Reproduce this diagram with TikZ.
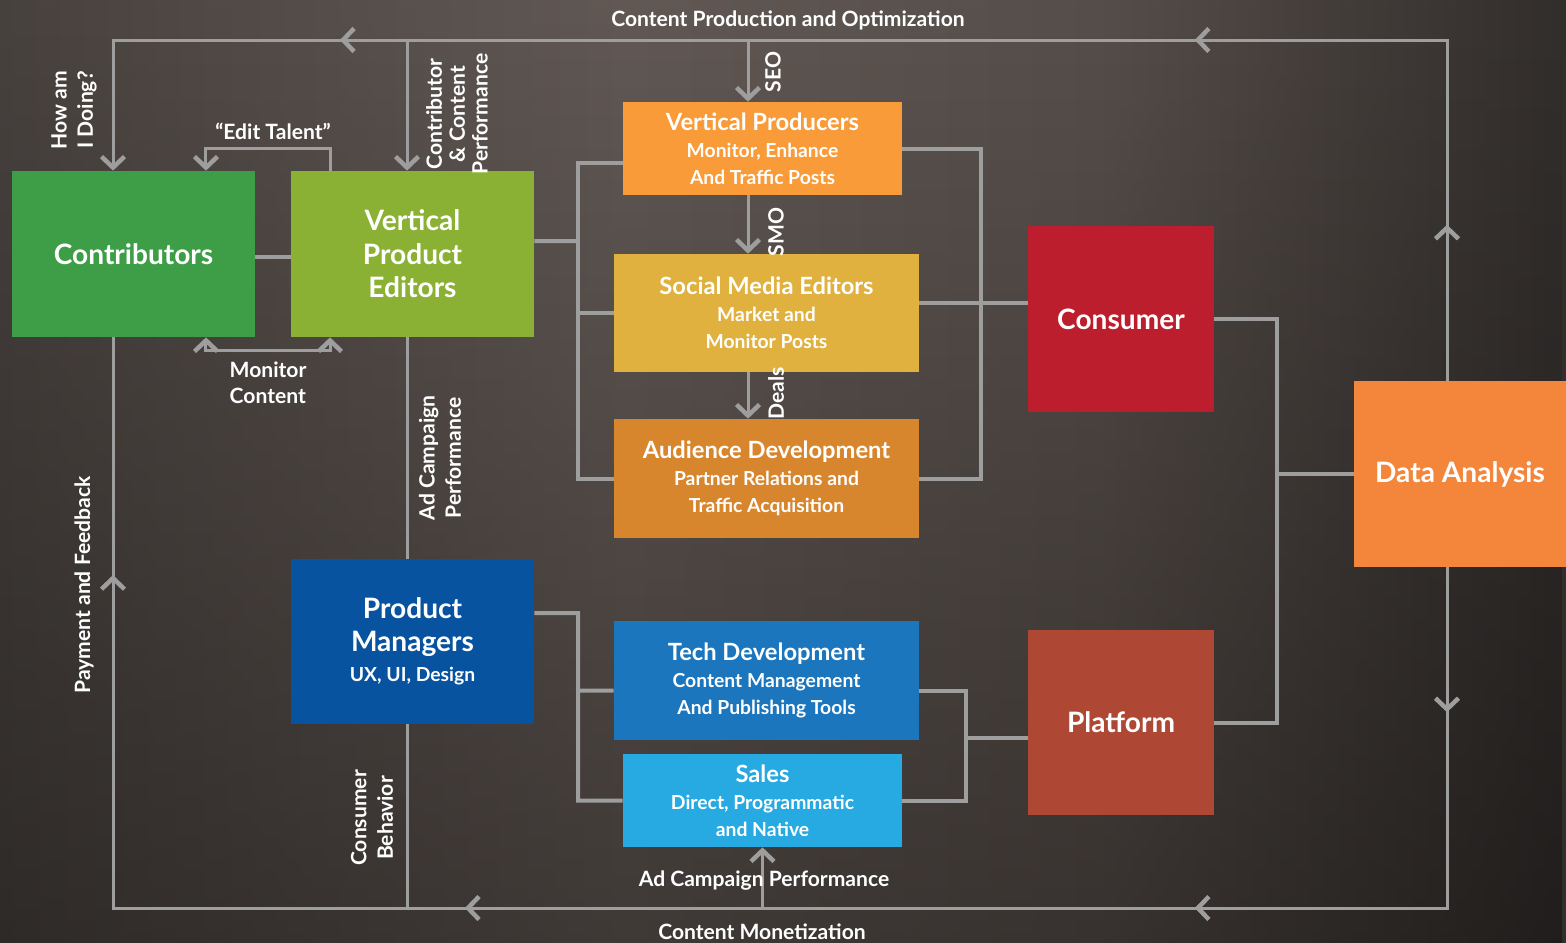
\documentclass[tikz,border=0pt]{standalone}
\usepackage{fontspec}
\setmainfont{Lato}
\usetikzlibrary{arrows.meta,decorations.markings,fadings}

\definecolor{contribgreen}{HTML}{3E9E48}
\definecolor{editorgreen}{HTML}{8AB133}
\definecolor{producerorange}{HTML}{F89B38}
\definecolor{socialyellow}{HTML}{E0B13F}
\definecolor{audienceorange}{HTML}{D8862E}
\definecolor{consumerred}{HTML}{BC1E2D}
\definecolor{dataorange}{HTML}{F3863A}
\definecolor{managerblue}{HTML}{0753A0}
\definecolor{techblue}{HTML}{1B76BD}
\definecolor{salesblue}{HTML}{27A9E1}
\definecolor{platformrust}{HTML}{AE4834}
\definecolor{wiregray}{HTML}{9E9E9E}
\definecolor{bgedge}{HTML}{151515}
\definecolor{bgdark}{HTML}{2A2725}
\definecolor{bgmid}{HTML}{48423F}
\definecolor{bglight}{HTML}{625955}
\definecolor{bgmidr}{HTML}{564E4A}
\definecolor{bgdarkr}{HTML}{322E2C}
\definecolor{bgedger}{HTML}{0D0D0D}

\pgfdeclarehorizontalshading{board}{100bp}{color(0bp)=(bgedge); color(8bp)=(bgdark);
  color(25bp)=(bgmid); color(45bp)=(bglight); color(60bp)=(bgmidr);
  color(75bp)=(bgdarkr); color(86bp)=(bgedger); color(100bp)=(bgedger)}
\tikzfading[name=fade top, top color=transparent!100, bottom color=transparent!35]

\newcommand\boxfont{\fontsize{16}{19}\selectfont}
\newcommand\teamfont{\fontsize{13.5}{15.5}\selectfont}
\newcommand\notefont{\fontsize{11}{15}\selectfont}
\newcommand\labfont{\fontsize{12}{15}\selectfont}

\tikzset{chev/.tip={Straight Barb[length=0.22cm, width=0.46cm, line width=0.09cm]}}

\begin{document}
\begin{tikzpicture}[x=0.02cm, y=-0.02cm,
  box/.style={inner sep=0pt, align=center, text=white, font=\bfseries\boxfont},
  team/.style={inner sep=0pt, align=center, text=white, font=\bfseries\teamfont},
  lab/.style={inner sep=0pt, align=center, text=white, font=\bfseries\labfont},
  wire/.style={draw=wiregray, line width=0.08cm},
  ring/.style={draw=wiregray, line width=0.06cm}]

\useasboundingbox (0,0) rectangle (1566,943);
\shade[shading=board] (0,0) rectangle (1566,943);
\fill[black, opacity=0.55, path fading=fade top] (0,0) rectangle (1566,943);

\node[box, fill=contribgreen, minimum width=4.86cm, minimum height=3.32cm] (contrib) at (133.5,254) {Contributors};
\node[box, fill=editorgreen, minimum width=4.86cm, minimum height=3.32cm] (vpe) at (412.5,254) {Vertical\\Product\\Editors};
\node[team, fill=producerorange, minimum width=5.58cm, minimum height=1.86cm] (vprod) at (762.5,148.5) {Vertical Producers\\{\notefont Monitor, Enhance}\\{\notefont And Traffic Posts}};
\node[team, fill=socialyellow, minimum width=6.10cm, minimum height=2.36cm] (sme) at (766.5,313) {Social Media Editors\\{\notefont Market and}\\{\notefont Monitor Posts}};
\node[team, fill=audienceorange, minimum width=6.10cm, minimum height=2.38cm] (aud) at (766.5,478.5) {Audience Development\\{\notefont Partner Relations and}\\{\notefont Traffic Acquisition}};
\node[box, fill=consumerred, minimum width=3.72cm, minimum height=3.72cm] (consumer) at (1121,319) {Consumer};
\node[box, fill=dataorange, minimum width=4.24cm, minimum height=3.72cm] (data) at (1460,474) {Data Analysis};
\node[box, fill=managerblue, minimum width=4.86cm, minimum height=3.30cm] (pm) at (412.5,641.5) {Product\\Managers\\[-2pt]{\notefont UX, UI, Design}};
\node[team, fill=techblue, minimum width=6.10cm, minimum height=2.38cm] (tech) at (766.5,680.5) {Tech Development\\{\notefont Content Management}\\{\notefont And Publishing Tools}};
\node[team, fill=salesblue, minimum width=5.58cm, minimum height=1.86cm] (sales) at (762.5,800.5) {Sales\\{\notefont Direct, Programmatic}\\{\notefont and Native}};
\node[box, fill=platformrust, minimum width=3.72cm, minimum height=3.70cm] (platform) at (1121,722.5) {Platform};

\coordinate (tl) at (113,40);
\coordinate (tr) at (1447,40);
\coordinate (bl) at (113,908);
\coordinate (br) at (1447,908);
\coordinate (seo) at (748,40);
\coordinate (vx) at (407,40);
\coordinate (cj) at (578,241);
\coordinate (cr) at (981,148);
\coordinate (dj) at (1277,474);
\coordinate (pj) at (578,613);
\coordinate (pr) at (966,738);

\draw[ring, -{chev}, postaction={decorate}, decoration={markings,
  mark=at position 3.12cm with {\arrow{chev}},
  mark=at position 11.86cm with {\arrow{chev}},
  mark=at position 28.96cm with {\arrow{chev}}}]
  (data.north -| tr) -- (tr) -- (tl) -- (tl |- contrib.north);
\draw[ring, postaction={decorate}, decoration={markings,
  mark=at position 2.9cm with {\arrow{chev}},
  mark=at position 11.86cm with {\arrow{chev}},
  mark=at position 26.46cm with {\arrow{chev}},
  mark=at position 40.16cm with {\arrow{chev}}}]
  (data.south -| br) -- (br) -- (bl) -- (bl |- contrib.south);

\draw[ring, -{chev}] (vx) -- (vx |- vpe.north);
\draw[ring] (vx |- vpe.south) -- (vx |- pm.north);
\draw[ring] (vx |- pm.south) -- (vx |- bl);
\draw[ring, -{chev}] (sales.south |- bl) -- (sales.south);
\draw[ring, -{chev}] (seo) -- (seo |- vprod.north);
\draw[ring, -{chev}] (seo |- vprod.south) -- (seo |- sme.north);
\draw[ring, -{chev}] (seo |- sme.south) -- (seo |- aud.north);

\draw[ring, -{chev}] ([xshift=-1.65cm]vpe.north) -- ++(0,-22) -| ([xshift=1.45cm]contrib.north);
\draw[ring, {chev}-{chev}] ([xshift=1.45cm]contrib.south) -- ++(0,13) -| ([xshift=-1.65cm]vpe.south);
\draw[wire] (contrib.east |- 0,257) -- (vpe.west |- 0,257);

\draw[wire] ([yshift=0.26cm]vpe.east) -- (cj);
\draw[wire] ([yshift=-0.29cm]vprod.west) -| (cj |- aud.west) -- (aud.west);
\draw[wire] (cj |- sme.west) -- (sme.west);
\draw[wire] (vprod.east) -| (cr |- aud.east) -- (aud.east);
\draw[wire] ([yshift=0.2cm]sme.east) -- ([yshift=0.2cm]sme.east -| consumer.west);

\draw[wire] (consumer.east) -| (dj) |- (platform.east);
\draw[wire] (dj) -- (data.west);

\draw[wire] ([yshift=0.57cm]pm.east) -- (pj) |- (sales.west);
\draw[wire] (pj |- 0,690.5) -- ([yshift=-0.2cm]tech.west);
\draw[wire] ([yshift=-0.2cm]tech.east) -| (pr |- sales.east) -- (sales.east);
\draw[wire] (pr) -- (pr -| platform.west);

\node[lab] (toplab) at (788,20) {Content Production and Optimization};
\node[lab] (botlab) at (762,932) {Content Monetization};
\node[lab] (adsales) at (764,881) {Ad Campaign Performance};
\node[lab] (editlab) at (273,131) {“Edit Talent”};
\node[lab, align=left] (monlab) at (268,383) {Monitor\\Content};
\node[lab, rotate=90] (howlab) at (74,110) {How am\\ I Doing?};
\node[lab, rotate=90] (perflab) at (457,114) {Contributor\\[-2pt]\& Content\\[-2pt]Performance};
\node[lab, rotate=90] (seolab) at (773,72) {SEO};
\node[lab, rotate=90] (smolab) at (776,232) {SMO};
\node[lab, rotate=90] (dealslab) at (776,393) {Deals};
\node[lab, rotate=90] (adlab) at (440,458) {Ad Campaign\\Performance};
\node[lab, rotate=90] (paylab) at (84,585) {Payment and Feedback};
\node[lab, rotate=90] (behlab) at (372,818) {Consumer\\Behavior};
\end{tikzpicture}
\end{document}
